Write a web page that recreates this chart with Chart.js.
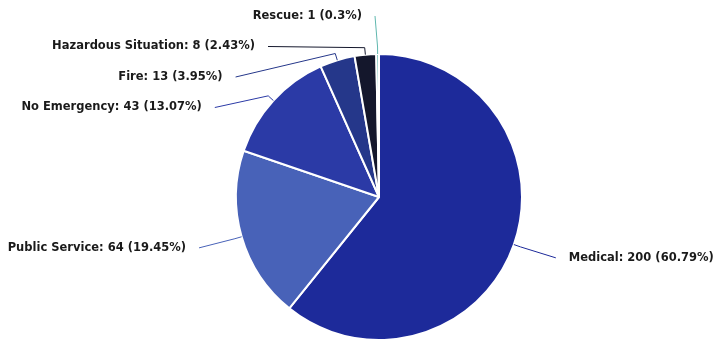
<!DOCTYPE html>
<html>
<head>
<meta charset="utf-8">
<script src="https://cdn.jsdelivr.net/npm/chart.js@4"></script>
<style>
  body { margin: 0; background: #fff; }
</style>
</head>
<body>
<canvas id="myChart" width="715" height="345"></canvas>
<script>
var categories = ['Medical', 'Public Service', 'No Emergency', 'Fire', 'Hazardous Situation', 'Rescue'];
var counts = [200, 64, 43, 13, 8, 1];
var sliceColors = ['#1d2a9a', '#4862b8', '#2b3aa6', '#25378a', '#14172c', '#5fb7ae'];

var total = counts.reduce(function (a, b) { return a + b; }, 0);

// outside labels with elbow connectors, spread so they don't overlap
var outsideLabels = {
    id: 'outsideLabels',
    afterDatasetsDraw: function (chart) {
        var ctx = chart.ctx;
        var meta = chart.getDatasetMeta(0);
        var gap = 30.5, topY = 16, bottomY = chart.height - 10;
        var left = [], right = [];
        meta.data.forEach(function (arc, i) {
            var p = arc.getProps(['x', 'y', 'startAngle', 'endAngle', 'outerRadius'], true);
            var mid = (p.startAngle + p.endAngle) / 2;
            var r = p.outerRadius;
            var item = {
                i: i, cx: p.x, cy: p.y, r: r, mid: mid,
                y: p.y + Math.sin(mid) * (r + 40)
            };
            item.ny = item.y;
            (Math.cos(mid) < 0 ? left : right).push(item);
        });

        function spread(list) {
            list.sort(function (a, b) { return a.ny - b.ny; });
            var groups = list.map(function (it) { return { items: [it] }; });
            var merged = true;
            while (merged) {
                merged = false;
                groups.forEach(function (g) {
                    var size = (g.items.length - 1) * gap;
                    var mean = g.items.reduce(function (s, it) { return s + it.ny; }, 0) / g.items.length;
                    g.start = Math.min(Math.max(mean - size / 2, topY), bottomY - size);
                    g.end = g.start + size;
                });
                for (var k = 0; k < groups.length - 1; k++) {
                    if (groups[k].end + gap > groups[k + 1].start) {
                        groups[k].items = groups[k].items.concat(groups[k + 1].items);
                        groups.splice(k + 1, 1);
                        merged = true;
                        break;
                    }
                }
            }
            groups.forEach(function (g) {
                g.items.forEach(function (it, j) { it.y = g.start + j * gap; });
            });
        }
        spread(left);
        spread(right);

        ctx.save();
        ctx.font = 'bold 11.5px "DejaVu Sans"';
        ctx.textBaseline = 'middle';
        left.concat(right).forEach(function (it) {
            var isLeft = Math.cos(it.mid) < 0;
            var R = it.r + 44;
            var dy = it.y - it.cy;
            // labels pushed above the label ring sit next to the centre line
            var dx = Math.abs(dy) >= it.r + 30 ? 4 : Math.sqrt(R * R - dy * dy);
            var lx = it.cx + (isLeft ? -dx : dx);
            var ex = it.cx + Math.cos(it.mid) * (it.r + 7);
            var ey = it.cy + Math.sin(it.mid) * (it.r + 7);
            var tx = it.cx + Math.cos(it.mid) * it.r;
            var ty = it.cy + Math.sin(it.mid) * it.r;

            ctx.strokeStyle = sliceColors[it.i];
            ctx.lineWidth = 1;
            ctx.beginPath();
            ctx.moveTo(lx, it.y);
            ctx.lineTo(ex, ey);
            ctx.lineTo(tx, ty);
            ctx.stroke();

            var v = counts[it.i];
            var pct = Math.round(v / total * 10000) / 100;
            var text = categories[it.i] + ': ' + v + ' (' + pct + '%)';
            ctx.fillStyle = '#1a1a1a';
            ctx.textAlign = isLeft ? 'right' : 'left';
            ctx.fillText(text, lx + (isLeft ? -13 : 13), it.y);
        });
        ctx.restore();
    }
};

var ctx = document.getElementById('myChart').getContext('2d');
var myChart = new Chart(ctx, {
    type: 'pie',
    data: {
        labels: categories,
        datasets: [{
            data: counts,
            backgroundColor: sliceColors,
            borderColor: '#ffffff',
            borderWidth: 2
        }]
    },
    options: {
        responsive: false,
        animation: false,
        layout: {
            padding: { top: 53, bottom: 4, left: 235, right: 192 }
        },
        plugins: {
            legend: { display: false },
            tooltip: { enabled: false }
        }
    },
    plugins: [outsideLabels]
});
</script>
</body>
</html>
